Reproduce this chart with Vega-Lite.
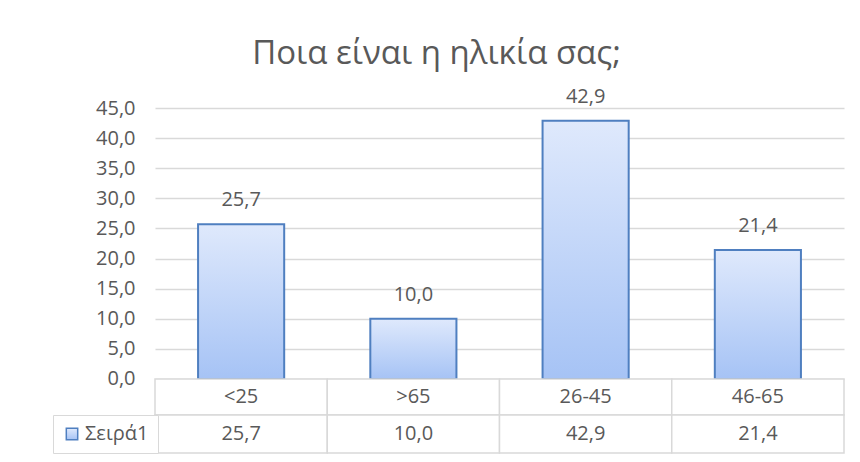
{
  "$schema": "https://vega.github.io/schema/vega-lite/v6.json",
  "width": 689,
  "height": 345,
  "autosize": {"type": "none"},
  "padding": {"left": 155, "top": 108, "right": 16, "bottom": 9},
  "background": "white",
  "title": {"text": "Ποια είναι η ηλικία σας;", "anchor": "middle", "dx": -63, "fontSize": 33, "font": "Open Sans", "fontWeight": "normal", "color": "#595959", "offset": -10, "baseline": "alphabetic"},
  "data": {"values": [
    {"age": "<25", "pct": 25.7, "series": "Σειρά1"},
    {"age": ">65", "pct": 10.0, "series": "Σειρά1"},
    {"age": "26-45", "pct": 42.9, "series": "Σειρά1"},
    {"age": "46-65", "pct": 21.4, "series": "Σειρά1"}
  ]},
  "encoding": {
    "x": {"field": "age", "type": "nominal", "sort": null, "scale": {"paddingInner": 0, "paddingOuter": 0}, "axis": null}
  },
  "layer": [
    {
      "mark": {"type": "bar", "width": {"band": 0.5}, "strokeWidth": 2, "fill": {"gradient": "linear", "x1": 0, "y1": 0, "x2": 0, "y2": 1, "stops": [{"offset": 0, "color": "#dfe9fc"}, {"offset": 1, "color": "#a6c3f5"}]}},
      "encoding": {
        "y": {"field": "pct", "type": "quantitative", "scale": {"domain": [-12.29, 45], "nice": false, "zero": false},
          "axis": {"values": [0, 5, 10, 15, 20, 25, 30, 35, 40, 45], "format": ".1f", "title": null, "domain": false, "ticks": false, "labelOverlap": false, "labelPadding": 20, "labelFontSize": 20, "labelColor": "#595959", "labelFont": "Open Sans", "grid": true, "gridColor": "#d9d9d9", "gridWidth": 1.5}},
        "y2": {"datum": 0},
        "stroke": {"field": "series", "type": "nominal", "scale": {"range": ["#4f7fc0"]},
          "legend": {"orient": "none", "legendX": -102, "legendY": 307, "title": null, "symbolType": "square", "symbolSize": 130, "symbolFillColor": "#b3cbf6", "symbolStrokeWidth": 1.5, "labelFontSize": 20, "labelColor": "#595959", "labelFont": "Open Sans", "labelOffset": 3, "strokeColor": "#d9d9d9", "fillColor": "white", "padding": 9}}
      }
    },
    {
      "mark": {"type": "text", "fontSize": 20, "color": "#595959", "font": "Open Sans", "baseline": "middle", "dy": -24},
      "encoding": {
        "y": {"field": "pct", "type": "quantitative", "scale": {"domain": [-12.29, 45], "nice": false, "zero": false},
          "axis": {"values": [0, 5, 10, 15, 20, 25, 30, 35, 40, 45], "format": ".1f", "title": null, "domain": false, "ticks": false, "labelOverlap": false, "labelPadding": 20, "labelFontSize": 20, "labelColor": "#595959", "labelFont": "Open Sans", "grid": true, "gridColor": "#d9d9d9", "gridWidth": 1.5}},
        "text": {"field": "pct", "type": "quantitative", "format": ".1f"}
      }
    },
    {
      "mark": {"type": "rect", "fill": "white", "stroke": "#d9d9d9", "strokeWidth": 1.5},
      "encoding": {
        "y": {"datum": 0, "type": "quantitative", "scale": {"domain": [-12.29, 45], "nice": false, "zero": false},
          "axis": {"values": [0, 5, 10, 15, 20, 25, 30, 35, 40, 45], "format": ".1f", "title": null, "domain": false, "ticks": false, "labelOverlap": false, "labelPadding": 20, "labelFontSize": 20, "labelColor": "#595959", "labelFont": "Open Sans", "grid": true, "gridColor": "#d9d9d9", "gridWidth": 1.5}},
        "y2": {"datum": -5.98}
      }
    },
    {
      "mark": {"type": "rect", "fill": "white", "stroke": "#d9d9d9", "strokeWidth": 1.5},
      "encoding": {
        "y": {"datum": -5.98, "type": "quantitative", "scale": {"domain": [-12.29, 45], "nice": false, "zero": false},
          "axis": {"values": [0, 5, 10, 15, 20, 25, 30, 35, 40, 45], "format": ".1f", "title": null, "domain": false, "ticks": false, "labelOverlap": false, "labelPadding": 20, "labelFontSize": 20, "labelColor": "#595959", "labelFont": "Open Sans", "grid": true, "gridColor": "#d9d9d9", "gridWidth": 1.5}},
        "y2": {"datum": -12.29}
      }
    },
    {
      "mark": {"type": "text", "fontSize": 20, "color": "#595959", "font": "Open Sans", "baseline": "middle"},
      "encoding": {
        "y": {"datum": -2.99, "type": "quantitative", "scale": {"domain": [-12.29, 45], "nice": false, "zero": false},
          "axis": {"values": [0, 5, 10, 15, 20, 25, 30, 35, 40, 45], "format": ".1f", "title": null, "domain": false, "ticks": false, "labelOverlap": false, "labelPadding": 20, "labelFontSize": 20, "labelColor": "#595959", "labelFont": "Open Sans", "grid": true, "gridColor": "#d9d9d9", "gridWidth": 1.5}},
        "text": {"field": "age", "type": "nominal"}
      }
    },
    {
      "mark": {"type": "text", "fontSize": 20, "color": "#595959", "font": "Open Sans", "baseline": "middle"},
      "encoding": {
        "y": {"datum": -9.13, "type": "quantitative", "scale": {"domain": [-12.29, 45], "nice": false, "zero": false},
          "axis": {"values": [0, 5, 10, 15, 20, 25, 30, 35, 40, 45], "format": ".1f", "title": null, "domain": false, "ticks": false, "labelOverlap": false, "labelPadding": 20, "labelFontSize": 20, "labelColor": "#595959", "labelFont": "Open Sans", "grid": true, "gridColor": "#d9d9d9", "gridWidth": 1.5}},
        "text": {"field": "pct", "type": "quantitative", "format": ".1f"}
      }
    }
  ],
  "config": {
    "font": "Open Sans",
    "view": {"stroke": null},
    "locale": {"number": {"decimal": ",", "thousands": ".", "grouping": [3], "currency": ["", " €"]}}
  }
}
